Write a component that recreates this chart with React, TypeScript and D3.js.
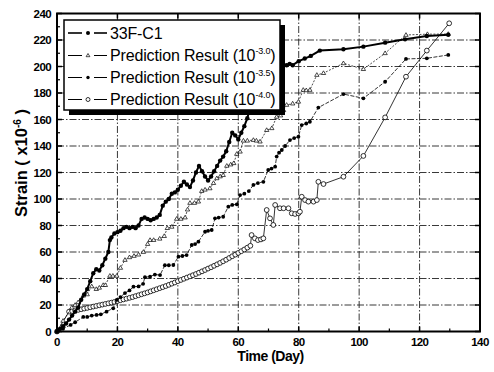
import React from "react";
import * as d3 from "d3";

const xTicks = [0, 20, 40, 60, 80, 100, 120, 140];
const yTicks = [0, 20, 40, 60, 80, 100, 120, 140, 160, 180, 200, 220, 240];

const measured: [number, number][] = [
  [0,0],[1,2],[2,4],[3,6],[4,9],[5,12],[6,15],[7,18],[8,24],[9,28],[10,32],[11,38],[12,44],[13,47],[14,46],[15,50],[16,55],[17,60],[17.5,69],[18,71],[19,74],[20,75],[21,76],[22,78],[23,79],[24,78],[25,79],[26,78],[27,80],[28,85],[29,86],[30,85],[31,84],[32,85],[33,86],[34,88],[35,95],[36,98],[37,100],[38,104],[39,105],[40,107],[41,110],[42,113],[43,111],[44,109],[45,114],[46,120],[47,125],[48,121],[49,117],[50,114],[51,117],[52,121],[53,125],[54,129],[55,132],[56,136],[57,143],[58,150],[59,148],[60,145],[61,150],[62,155],[63,161],[64,170],[65,180],[66,188],[68,192],[70,195],[72,197],[74,199],[75,201],[76,201],[77,202],[78,201],[80,204],[82,206],[84,208],[87,212],[94.8,213],[101.4,215],[108.6,218],[115.2,220.5],[122.4,223],[129.5,224]
];

const pred30: [number, number][] = [
  [0,0],[2,8],[4.9,18],[6,20],[7,22],[8.7,27],[10,28],[11.5,34],[13,32],[14,33],[15.3,35],[16,35],[17.5,42],[18.5,42],[19.8,42],[21,48],[22.5,54],[24,56],[25.5,57],[27,58],[28.6,60],[30,66],[30.8,69],[32,69],[34,70],[35.5,72],[36.5,78],[38,79],[39.6,85],[41,85],[42.4,86],[43.2,92],[44,97],[45.5,97],[46.8,98],[47.9,106],[49,107],[50.6,108],[51.8,112],[52.9,115.6],[54,117],[55,118],[56.2,125],[57.5,126],[58.5,127],[59.5,134],[60.6,135.7],[61.7,144],[63,144],[65,144.5],[66,144],[67.2,143.3],[69.4,152],[71.1,153.4],[72.7,162],[74,163],[75,167],[76,171],[78,172],[79.9,173.4],[81.5,182.3],[82.5,182],[83.7,182.3],[86,193.6],[88.2,195],[94.8,202.4],[101.4,198],[108.6,210],[115.5,223.8],[122.6,224.4],[129.5,224.5]
];

const pred35: [number, number][] = [
  [0,0],[2,2],[4.5,5],[6,7],[8.7,11],[10,11],[11.5,12],[13.1,12.5],[14.5,13],[16.4,15],[18.6,17.5],[19.8,23.8],[21,26],[22.5,29],[24,31],[25.3,33.8],[27,34],[28.5,36],[29.1,41],[30.8,41.4],[32.4,43],[34.1,42.6],[35.7,50],[37,50],[38.5,50.2],[40.2,56.5],[41.5,57],[42.9,57.7],[44.6,65.3],[45.7,66],[46.8,67.8],[49,75.3],[50,76],[51.2,76.6],[52.3,85.4],[53.5,86],[55,86.6],[56.7,94.2],[58,95.5],[59.5,96],[60.6,103],[62,104],[63.5,106],[65,110.6],[66.5,112],[68.3,113],[69.9,121.9],[71,123],[72.2,124.4],[72.7,132],[73.5,135],[74.4,137],[75.5,140],[77.1,144.5],[78.5,146],[79.9,147],[81,155.8],[82.5,157],[83.7,158.3],[86.5,169],[94.8,179.2],[101.4,176],[108.6,188.5],[115.5,205.7],[122.4,206.2],[129.5,208.7]
];

const pred40: [number, number][] = [
  [0,0],[4,15],[5,15.5],[6,16],[7,16.3],[8,16.8],[9,17.3],[10,17.8],[11,18.3],[12,18.8],[13,19.3],[14,19.8],[15,20.3],[16,20.8],[17,21.3],[18,21.8],[19,22.3],[20,23],[21,23.6],[22,24.2],[23,24.8],[24,25.4],[25,26],[26,26.7],[27,27.4],[28,28.1],[29,28.8],[30,29.5],[31,30.3],[32,31.1],[33,31.9],[34,32.7],[35,33.5],[36,34.3],[37,35.2],[38,36.1],[39,37],[40,38],[41,38.9],[42,39.8],[43,40.7],[44,41.6],[45,42.5],[46,43.4],[47,44.4],[48,45.4],[49,46.4],[50,47.5],[51,48.5],[52,49.6],[53,50.7],[54,51.8],[55,53],[56,54.2],[57,55.5],[58,56.8],[59,58],[60,59.3],[61,60.6],[62,61.9],[63,63.3],[64,64.7],[64.4,72.8],[65.5,70.3],[66.5,69],[67.5,69.5],[68.3,70.3],[69.4,91.7],[70.5,85.4],[71.6,80.4],[72.2,95.5],[73.8,93],[75,93],[76.6,93],[77.7,89.2],[78.8,88.7],[79.9,89.2],[80.4,90.4],[81,101.7],[82.1,99.2],[83.2,98],[84.9,98],[86,99.2],[86.5,113],[88.2,111.3],[94.8,116.8],[101.4,132.5],[108.6,161.6],[115.5,192.3],[122.4,212],[129.8,232.6]
];

const legendLabels = ["33F-C1", "Prediction Result (10", "Prediction Result (10", "Prediction Result (10"];
const legendSups = ["", "-3.0", "-3.5", "-4.0"];

const W = 494, H = 372;
const L = 57, R = 480, T = 13.5, B = 331.5;
const FONT = "'Liberation Sans', Arial, sans-serif";

function triPath(x: number, y: number, s: number) {
  return `M${x},${y - s}L${x + s * 0.95},${y + s * 0.6}L${x - s * 0.95},${y + s * 0.6}Z`;
}

export default function App() {
  const x = d3.scaleLinear().domain([0, 140]).range([L, R]);
  const y = d3.scaleLinear().domain([0, 240]).range([B, T]);
  const line = d3.line<[number, number]>().x(d => x(d[0])).y(d => y(d[1]));

  const xMinor = d3.range(10, 140, 20);
  const yMinor = d3.range(10, 240, 20);

  const legX = 64, legY = 20, legW = 216, legH = 90;
  const rowY = [33, 55.5, 77.5, 99.5];

  return (
    <div style={{ position: "fixed", left: 0, top: 0 }}>
      <svg width={W} height={H} style={{ display: "block", background: "#fff" }}>
        {/* grid */}
        {xTicks.slice(1, -1).map(t => (
          <line key={"gx" + t} x1={x(t)} x2={x(t)} y1={T} y2={B} stroke="#222" strokeWidth={0.9} strokeDasharray="7,2,1.5,2" />
        ))}
        {yTicks.slice(1, -1).map(t => (
          <line key={"gy" + t} x1={L} x2={R} y1={y(t)} y2={y(t)} stroke="#222" strokeWidth={0.9} strokeDasharray="7,2,1.5,2" />
        ))}

        {/* series 10^-4.0 */}
        <path d={line(pred40) || ""} fill="none" stroke="#000" strokeWidth={0.8} />
        {pred40.map((d, i) => (
          <circle key={"c4" + i} cx={x(d[0])} cy={y(d[1])} r={2.4} fill="#fff" stroke="#000" strokeWidth={0.8} />
        ))}
        {/* series 10^-3.5 */}
        <path d={line(pred35) || ""} fill="none" stroke="#000" strokeWidth={0.8} strokeDasharray="4,1.5" />
        {pred35.map((d, i) => (
          <circle key={"c3" + i} cx={x(d[0])} cy={y(d[1])} r={1.9} fill="#000" />
        ))}
        {/* series 10^-3.0 */}
        <path d={line(pred30) || ""} fill="none" stroke="#000" strokeWidth={0.7} strokeDasharray="2,1.5" />
        {pred30.map((d, i) => (
          <path key={"c2" + i} d={triPath(x(d[0]), y(d[1]), 2.3)} fill="#fff" stroke="#000" strokeWidth={0.7} />
        ))}
        {/* measured */}
        <path d={line(measured) || ""} fill="none" stroke="#000" strokeWidth={2} />
        {measured.map((d, i) => (
          <circle key={"c1" + i} cx={x(d[0])} cy={y(d[1])} r={2.2} fill="#000" />
        ))}

        {/* frame */}
        <rect x={L} y={T} width={R - L} height={B - T} fill="none" stroke="#000" strokeWidth={2} />

        {/* ticks */}
        {xTicks.map(t => (
          <line key={"xt" + t} x1={x(t)} x2={x(t)} y1={B} y2={B - 5} stroke="#000" strokeWidth={1.5} />
        ))}
        {xMinor.map(t => (
          <line key={"xm" + t} x1={x(t)} x2={x(t)} y1={B} y2={B - 3} stroke="#000" strokeWidth={1.2} />
        ))}
        {yTicks.map(t => (
          <line key={"yt" + t} x1={L} x2={L + 5} y1={y(t)} y2={y(t)} stroke="#000" strokeWidth={1.5} />
        ))}
        {yMinor.map(t => (
          <line key={"ym" + t} x1={L} x2={L + 3} y1={y(t)} y2={y(t)} stroke="#000" strokeWidth={1.2} />
        ))}
        {xTicks.map(t => (
          <line key={"xtt" + t} x1={x(t)} x2={x(t)} y1={T} y2={T + 5} stroke="#000" strokeWidth={1.5} />
        ))}
        {yTicks.map(t => (
          <line key={"ytr" + t} x1={R} x2={R - 5} y1={y(t)} y2={y(t)} stroke="#000" strokeWidth={1.5} />
        ))}

        {/* tick labels */}
        {xTicks.map(t => (
          <text key={"xl" + t} x={x(t)} y={B + 14} textAnchor="middle" fontFamily={FONT} fontWeight="bold" fontSize={11.5} letterSpacing={-0.6}>{t}</text>
        ))}
        {yTicks.map(t => (
          <text key={"yl" + t} x={L - 6} y={y(t) + 4} textAnchor="end" fontFamily={FONT} fontWeight="bold" fontSize={11.5} letterSpacing={-0.6}>{t}</text>
        ))}

        {/* axis titles */}
        <text x={(L + R) / 2 + 2} y={361} textAnchor="middle" fontFamily={FONT} fontWeight="bold" fontSize={14} letterSpacing={-0.5}>Time (Day)</text>
        <text transform={`translate(27,163) rotate(-90)`} textAnchor="middle" fontFamily={FONT} fontWeight="bold" fontSize={16.5} letterSpacing={0}>
          Strain ( x10<tspan dy={-6} fontSize={10}>-6</tspan><tspan dy={6}> )</tspan>
        </text>

        {/* legend */}
        <rect x={legX + 5} y={legY + 5} width={legW} height={legH} fill="#000" />
        <rect x={legX} y={legY} width={legW} height={legH} fill="#fff" stroke="#000" strokeWidth={1.5} />
        {legendLabels.map((lab, i) => {
          const ry = rowY[i];
          const mx = 88;
          return (
            <g key={"lg" + i}>
              <line x1={68} x2={82} y1={ry} y2={ry} stroke="#000" strokeWidth={i === 0 ? 1.6 : 1} />
              <line x1={94} x2={107} y1={ry} y2={ry} stroke="#000" strokeWidth={i === 0 ? 1.6 : 1} />
              {i === 0 && <circle cx={mx} cy={ry} r={2} fill="#000" />}
              {i === 1 && <path d={triPath(mx, ry, 2)} fill="#fff" stroke="#000" strokeWidth={0.7} />}
              {i === 2 && <circle cx={mx} cy={ry} r={1.7} fill="#000" />}
              {i === 3 && <circle cx={mx} cy={ry} r={2} fill="#fff" stroke="#000" strokeWidth={0.8} />}
              <text x={110} y={ry + 5.5} fontFamily={FONT} fontSize={16} letterSpacing={-0.15}>
                {lab}
                {legendSups[i] && (
                  <>
                    <tspan dy={-7} fontSize={9}>{legendSups[i]}</tspan>
                    <tspan dy={7}>)</tspan>
                  </>
                )}
              </text>
            </g>
          );
        })}
      </svg>
    </div>
  );
}
